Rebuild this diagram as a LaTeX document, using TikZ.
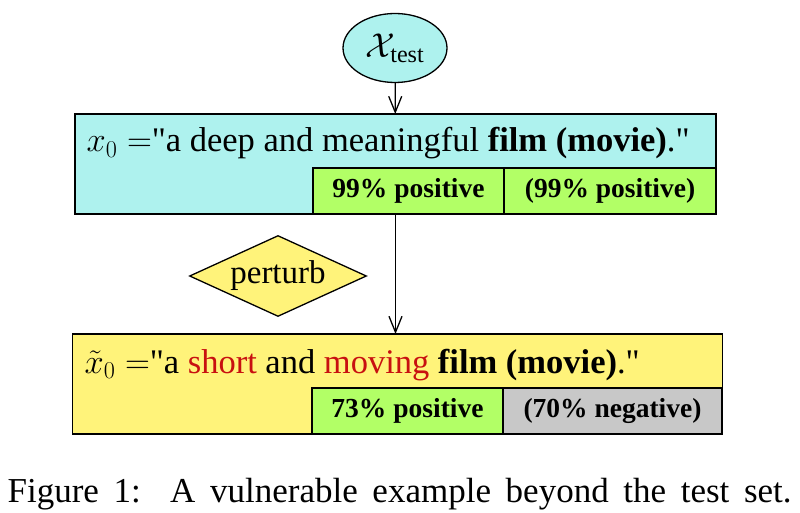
\RequirePackage{fix-cm}
\documentclass[tikz,border=0pt]{standalone}
\usepackage{amsmath}
\usepackage{fontspec}
\setmainfont{Liberation Serif}
\usetikzlibrary{shapes.geometric, positioning, arrows.meta}

\definecolor{testcyan}{RGB}{174,242,238}
\definecolor{advyellow}{RGB}{255,243,122}
\definecolor{predgreen}{RGB}{178,255,102}
\definecolor{predgray}{RGB}{200,200,200}
\definecolor{wordred}{RGB}{200,16,16}

\begin{document}
\begin{tikzpicture}[x=1pt,y=-1pt,line width=1.3pt,
    >={Straight Barb[length=16pt,width=13pt]},
    font=\fontsize{34.5}{40}\selectfont,
    sentence/.style={draw,rectangle,minimum width=#1,minimum height=100pt,inner sep=0pt,outer sep=0pt},
    predcell/.style={draw,rectangle,minimum width=#1,minimum height=46pt,inner sep=0pt,outer sep=0pt,font=\fontsize{27.5}{32}\selectfont\bfseries}]
    \useasboundingbox (0,0) rectangle (800,513);

    \node[ellipse,draw,fill=testcyan,minimum width=104pt,minimum height=69pt,inner sep=0pt] (test_set) at (395,48) {$\mathcal{X}_{\text{test}}$};

    \node[sentence=641pt,fill=testcyan] (x_0) at (395.5,164) {};
    \node[anchor=base west,inner sep=0pt] (x_0_text) at (86,152) {$x_0=$\textquotedbl a deep and meaningful \textbf{film (movie)}.\textquotedbl};
    \node[predcell=191pt,fill=predgreen,anchor=south west] (x_0_pred) at (313,214) {99\% positive};
    \node[predcell=212pt,fill=predgreen] (x_0_true) [right=0pt of x_0_pred] {(99\% positive)};

    \node[diamond,draw,fill=advyellow,minimum width=177pt,minimum height=81pt,aspect=2.2,inner sep=0pt,font=\fontsize{33}{38}\selectfont] (perturb) at (278,276) {perturb};

    \node[sentence=650pt,fill=advyellow] (x_adv) at (397.5,384) {};
    \node[anchor=base west,inner sep=0pt] (x_adv_text) at (84,373) {$\tilde{x}_0=$\textquotedbl a \textcolor{wordred}{short} and \textcolor{wordred}{moving} \textbf{film (movie)}.\textquotedbl};
    \node[predcell=191pt,fill=predgreen,anchor=south west] (x_adv_pred) at (312,434) {73\% positive};
    \node[predcell=219pt,fill=predgray] (x_adv_true) [right=0pt of x_adv_pred] {(70\% negative)};

    \path[->]
    (test_set) edge (x_0)
    (x_0.south) edge (x_0.south |- x_adv.north);

    \node[anchor=base west,inner sep=0pt,font=\fontsize{35}{40}\selectfont] (caption) at (7,502) {\makebox[784pt][s]{Figure 1:\ \ A vulnerable example beyond the test set.}};
  \end{tikzpicture}
\end{document}
